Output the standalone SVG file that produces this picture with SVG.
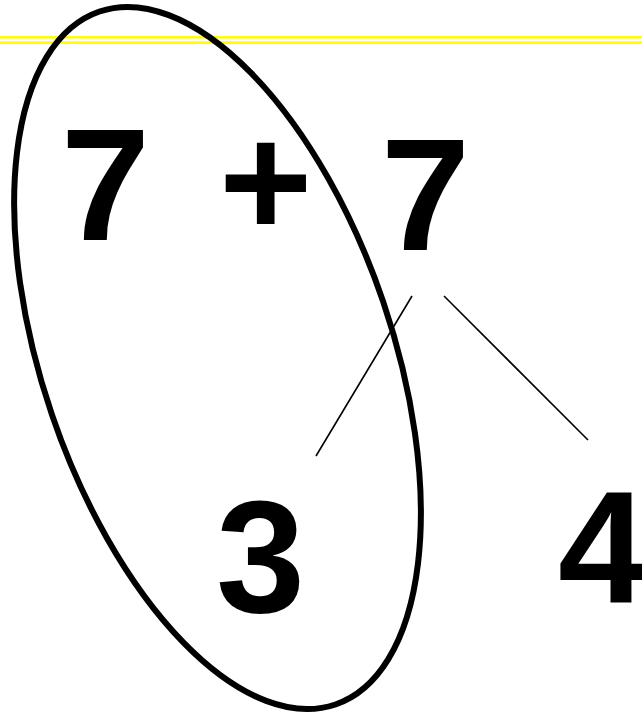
<svg xmlns="http://www.w3.org/2000/svg" width="642" height="717" viewBox="0 0 642 717">
<style>
.num{font-family:"Liberation Sans",Arial,sans-serif;font-weight:bold;font-size:160px;fill:#000}
.rule{stroke:#ffff00;fill:none}
.link{stroke:#000;stroke-width:1.6;fill:none}
</style>
<rect width="642" height="717" fill="#fff"/>
<g id="rules">
<line class="rule" x1="0" y1="37.2" x2="642" y2="37.2" stroke-width="2.6"/>
<line class="rule" x1="0" y1="42.6" x2="642" y2="42.6" stroke-width="2.6"/>
</g>
<g id="n7a"><text class="num" x="61" y="240">7</text></g>
<g id="nplus"><text class="num" x="219" y="237">+</text></g>
<g id="n7b"><text class="num" x="381" y="250">7</text></g>
<g id="n3"><text class="num" x="216" y="612">3</text></g>
<g id="n4"><text class="num" x="558" y="602">4</text></g>
<g id="connectors">
<line class="link" x1="412" y1="296" x2="316" y2="456"/>
<line class="link" x1="444" y1="296" x2="588" y2="440"/>
</g>
<g id="loop">
<ellipse cx="217.5" cy="358" rx="366" ry="175" transform="rotate(71.2 217.5 358)" fill="none" stroke="#000" stroke-width="6"/>
</g>
</svg>
